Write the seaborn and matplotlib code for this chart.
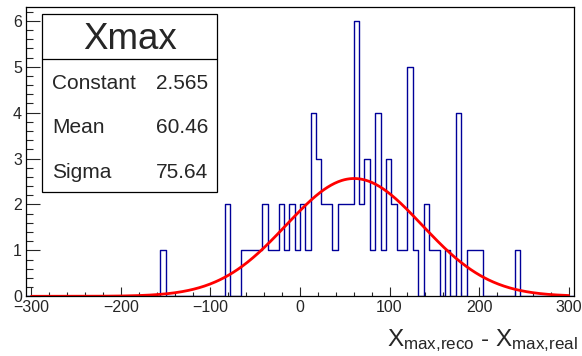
import numpy as np
import pandas as pd
import matplotlib
matplotlib.use("Agg")
import matplotlib.pyplot as plt
from matplotlib.patches import Rectangle
from matplotlib.lines import Line2D
from matplotlib.ticker import MultipleLocator
import seaborn as sns

# histogram: lower edges of the filled bins (width 6) and their counts
bin_low = [-156, -84, -66, -60, -54, -48, -42, -36, -30, -24, -18, -12, -6, 0, 6,
           12, 18, 24, 30, 36, 42, 48, 54, 60, 66, 72, 78, 84, 90, 96, 102, 108,
           114, 120, 126, 138, 144, 150, 162, 174, 186, 192, 198, 240]
counts = [1, 2, 1, 1, 1, 1, 2, 1, 1, 2, 1, 2, 1, 2, 1,
          4, 3, 2, 2, 1, 2, 2, 2, 6, 2, 3, 1, 4, 1, 3, 2, 1,
          1, 5, 1, 2, 1, 1, 1, 4, 1, 1, 1, 1]
bin_width = 6
edges = list(range(-306, 306 + bin_width, bin_width))

# gaussian fit parameters (from stats box)
fit_names = ["Constant", "Mean", "Sigma"]
fit_values = [2.565, 60.46, 75.64]

df = pd.DataFrame({"x": np.array(bin_low) + bin_width / 2, "w": counts})

sns.set_style("ticks")
plt.rcParams["font.family"] = ["Liberation Sans", "DejaVu Sans"]
plt.rcParams["mathtext.fontset"] = "custom"
plt.rcParams["mathtext.rm"] = "Liberation Sans"
plt.rcParams["mathtext.it"] = "Liberation Sans"

fig = plt.figure(figsize=(5.82, 3.56), dpi=100)
ax = fig.add_axes([26 / 582, 1 - 296.3 / 356, 548 / 582, 289.3 / 356])

sns.histplot(data=df, x="x", weights="w", bins=edges, element="step", fill=False,
             color="#000099", linewidth=1, ax=ax)

c, mu, sig = fit_values
xs = np.linspace(-300, 300, 600)
sns.lineplot(x=xs, y=c * np.exp(-0.5 * ((xs - mu) / sig) ** 2), color="#ff0000",
             linewidth=2, ax=ax)

ax.set_xlim(-306, 306)
ax.set_ylim(0, 6.3)
ax.set_xlabel("")
ax.set_ylabel("")
ax.xaxis.set_major_locator(MultipleLocator(100))
ax.xaxis.set_minor_locator(MultipleLocator(20))
ax.yaxis.set_major_locator(MultipleLocator(1))
ax.yaxis.set_minor_locator(MultipleLocator(0.2))
ax.tick_params(axis="x", which="major", direction="in", length=6.5, width=0.8,
               labelsize=11.5, pad=3, top=False)
ax.tick_params(axis="x", which="minor", direction="in", length=3.2, width=0.8, top=False)
ax.tick_params(axis="y", which="major", direction="in", length=10, width=0.8,
               labelsize=11.5, pad=3, right=False)
ax.tick_params(axis="y", which="minor", direction="in", length=5, width=0.8, right=False)
for s in ax.spines.values():
    s.set_visible(True)
    s.set_linewidth(0.9)
    s.set_color("black")

# stats box
x0, x1 = 42 / 582, 217 / 582
yb, yt, ysep = 1 - 192 / 356, 1 - 14 / 356, 1 - 59.3 / 356
fig.add_artist(Rectangle((x0, yb), x1 - x0, yt - yb, transform=fig.transFigure,
                         facecolor="white", edgecolor="black", linewidth=0.9, zorder=5))
fig.add_artist(Line2D([x0, x1], [ysep, ysep], transform=fig.transFigure,
                      color="black", linewidth=0.9, zorder=6))
fig.text(130 / 582, 1 - 49.3 / 356, "Xmax", ha="center", va="baseline",
         fontsize=26.5, zorder=7)
for i, (n, v) in enumerate(zip(fit_names, fit_values)):
    yy = 1 - (89 + 44.3 * i) / 356
    fig.text(52 / 582, yy, n, ha="left", va="baseline", fontsize=15, zorder=7)
    fig.text(208 / 582, yy, f"{v:.4g}", ha="right", va="baseline", fontsize=15, zorder=7)

fig.text(578 / 582, 1 - 346.5 / 356,
         r"$\mathrm{X_{max{,}reco}}$ - $\mathrm{X_{max{,}real}}$",
         ha="right", va="baseline", fontsize=17.5)

fig.savefig("out.png", dpi=100, facecolor="white")
